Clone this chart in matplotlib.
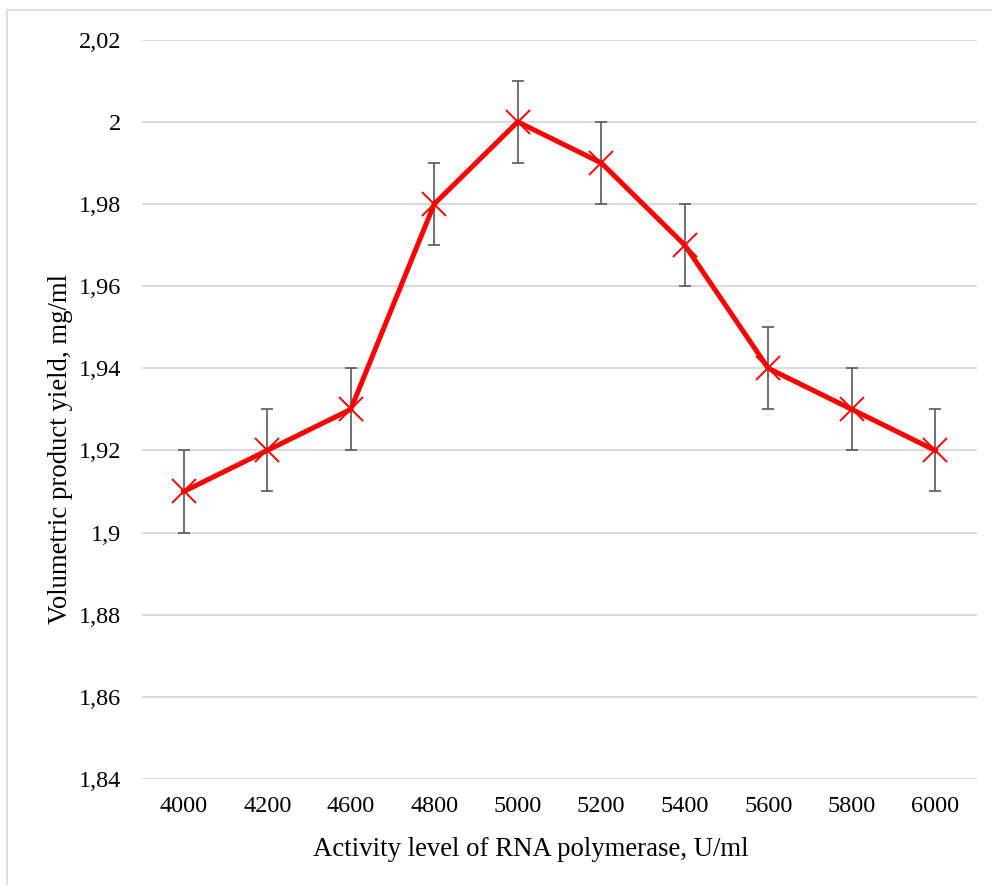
import matplotlib
matplotlib.use('Agg')
import matplotlib.pyplot as plt
from matplotlib.ticker import FuncFormatter, MultipleLocator
from matplotlib.patches import Rectangle

activity = ['4000', '4200', '4600', '4800', '5000', '5200', '5400', '5600', '5800', '6000']
yield_vals = [1.91, 1.92, 1.93, 1.98, 2.00, 1.99, 1.97, 1.94, 1.93, 1.92]
yield_err = [0.01, 0.01, 0.01, 0.01, 0.01, 0.01, 0.01, 0.01, 0.01, 0.01]

plt.rcParams['font.family'] = ['Liberation Serif', 'DejaVu Serif']

fig = plt.figure(figsize=(9.92, 8.85), dpi=100)
ax = fig.add_axes([142 / 992, 1 - 779 / 885, 835 / 992, (779 - 39.7) / 885])

# thin frame like the exported chart area (only left/top visible)
fig.patches.append(Rectangle((7 / 992, -0.1), 1.2, 1 - 10 / 885 + 0.1,
                             transform=fig.transFigure, fill=False,
                             edgecolor='#d9d9d9', linewidth=1.2))

x = list(range(len(activity)))
ax.errorbar(x, yield_vals, yerr=yield_err, fmt='none', ecolor='#595959',
            elinewidth=1.2, capsize=4, capthick=1.2, zorder=2)
ax.plot(x, yield_vals, color='#ff0000', linewidth=3.6, marker='x',
        markersize=17, markeredgewidth=1.4, zorder=3)

ax.set_xlim(-0.5, len(activity) - 0.5)
ax.set_ylim(1.84, 2.02)
ax.yaxis.set_major_locator(MultipleLocator(0.02))
ax.yaxis.set_major_formatter(FuncFormatter(lambda v, p: '{:g}'.format(round(v, 2)).replace('.', ',')))
ax.set_xticks(x)
ax.set_xticklabels(activity)

ax.grid(axis='y', color='#d9d9d9', linewidth=1.4)
ax.set_axisbelow(True)
for s in ax.spines.values():
    s.set_visible(False)
ax.tick_params(length=0, labelsize=17.5, colors='black')
ax.tick_params(axis='y', pad=15)
ax.tick_params(axis='x', pad=12)

ax.set_xlabel('Activity level of RNA polymerase, U/ml', fontsize=19.3, va='center')
ax.set_ylabel('Volumetric product yield, mg/ml', fontsize=19.3, va='center')
# Excel centres the titles on the chart area, not the plot area
ax.xaxis.set_label_coords(0.466, -0.095)
ax.yaxis.set_label_coords(-0.098, 0.446)

fig.savefig('out.png', dpi=100)
